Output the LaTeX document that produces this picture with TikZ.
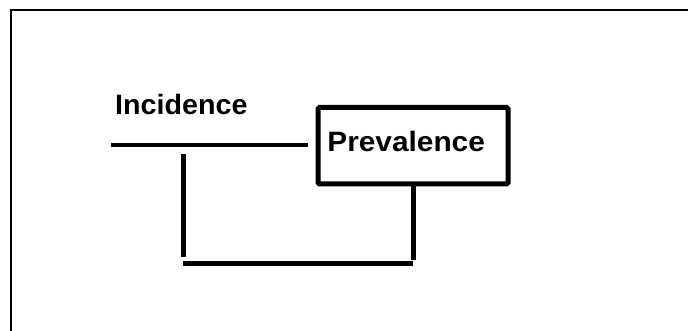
\documentclass[tikz,border=0pt]{standalone}
\usepackage{fontspec}
\usepackage{graphicx}
\setmainfont{Liberation Sans}
\begin{document}
\begin{tikzpicture}[x=1pt,y=-1pt,
  frame/.style={line width=2pt},
  flow/.style={line width=5pt},
  inline/.style={line width=4pt},
  label/.style={font=\fontsize{28}{30}\selectfont\bfseries, inner sep=0pt, anchor=base west},
  stockbox/.style={draw, line width=5pt, rounded corners=1.5pt, minimum width=190pt, minimum height=76.5pt, inner sep=0pt}]
\useasboundingbox (0,0) rectangle (688,331);
% frame (top and left edges only)
\coordinate (fbl) at (11.3,331);
\coordinate (ftl) at (11.3,10);
\coordinate (ftr) at (688,10);
\draw[frame] (fbl) -- (ftl) -- (ftr);
% stock box
\node[stockbox] (prev) at (413,145.75) {};
\node[label] (prevtext) at (327.2,151.7) {\scalebox{1.065}[1]{Prevalence}};
\node[label] (inc) at (115,114.7) {\scalebox{1.025}[1]{Incidence}};
% inflow line
\coordinate (in1) at (111,145);
\coordinate (in2) at (308,145);
\draw[inline] (in1) -- (in2);
% feedback loop
\coordinate (lt) at (183.3,154);
\coordinate (lb) at (183.3,256.7);
\coordinate (bl) at (183.3,263.3);
\coordinate (br) at (413,263.3);
\coordinate (rb) at (413.5,260);
\draw[flow] (lt) -- (lb);
\draw[flow] (bl) -- (br);
\draw[flow] (prev.south -| rb) -- (rb);
\end{tikzpicture}
\end{document}
